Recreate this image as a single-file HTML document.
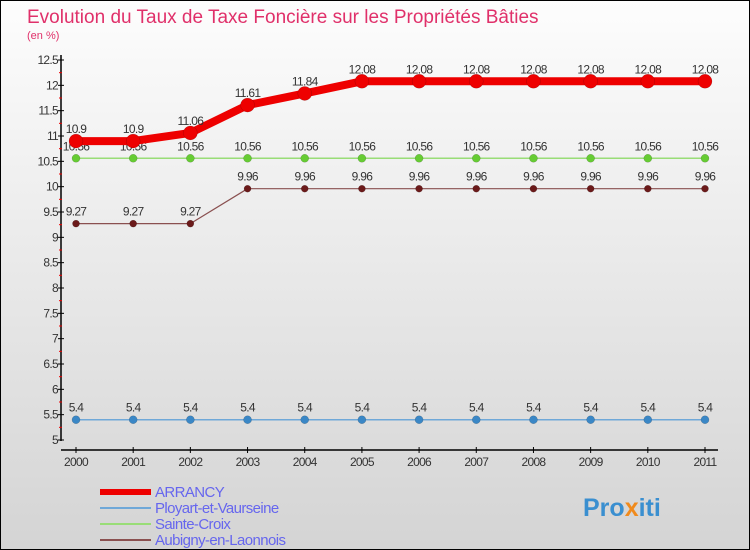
<!DOCTYPE html>
<html><head><meta charset="utf-8"><style>
body{margin:0;width:750px;height:550px;overflow:hidden;font-family:"Liberation Sans",sans-serif}
svg{display:block}
</style></head><body>
<svg width="750" height="550">
<defs><linearGradient id="bg" x1="0" y1="0" x2="0" y2="1"><stop offset="0" stop-color="#fdfdfd"/><stop offset="1" stop-color="#d4d4d4"/></linearGradient></defs>
<rect x="0.5" y="0.5" width="749" height="549" fill="url(#bg)" stroke="#000"/>
<text x="27" y="23" font-size="19" fill="#e0306a">Evolution du Taux de Taxe Foncière sur les Propriétés Bâties</text>
<text x="27" y="39" font-size="11" fill="#e0306a">(en %)</text>
<g id="axes"></g><g id="series"></g><g id="legend"></g>
<text x="583" y="516" font-size="25" font-weight="bold" fill="#3a8fd0">Pro<tspan fill="#f08a1c">x</tspan>iti</text>
</svg>
<script>
const years=["2000","2001","2002","2003","2004","2005","2006","2007","2008","2009","2010","2011"];
const yTicks=[5,5.5,6,6.5,7,7.5,8,8.5,9,9.5,10,10.5,11,11.5,12,12.5];
const names=["ARRANCY","Ployart-et-Vaurseine","Sainte-Croix","Aubigny-en-Laonnois"];
const arrancy=[10.9,10.9,11.06,11.61,11.84,12.08,12.08,12.08,12.08,12.08,12.08,12.08];
const ployart=[5.4,5.4,5.4,5.4,5.4,5.4,5.4,5.4,5.4,5.4,5.4,5.4];
const sainte=[10.56,10.56,10.56,10.56,10.56,10.56,10.56,10.56,10.56,10.56,10.56,10.56];
const aubigny=[9.27,9.27,9.27,9.96,9.96,9.96,9.96,9.96,9.96,9.96,9.96,9.96];
const labels=[arrancy.map(String),ployart.map(String),sainte.map(String),aubigny.map(String)];
const NS="http://www.w3.org/2000/svg";
const X=i=>76+i*(705-76)/(years.length-1);
const Y=v=>440-(v-5)*(380/7.5);
function mk(t,a,p){const e=document.createElementNS(NS,t);for(const k in a)e.setAttribute(k,a[k]);p.appendChild(e);return e;}
const ax=document.getElementById('axes');
let e=mk('line',{x1:61,y1:55,x2:61,y2:441,stroke:'#000','stroke-width':1.5},ax);


e=mk('line',{x1:61,y1:450,x2:718,y2:450,stroke:'#000','stroke-width':1.5},ax);


yTicks.forEach(v=>{
 mk('line',{x1:58,x2:64,y1:Y(v),y2:Y(v),stroke:'#000'},ax);
 if(v<12.5)mk('line',{x1:59,x2:62,y1:Y(v+0.25),y2:Y(v+0.25),stroke:'#e00'},ax);
 const t=mk('text',{x:58,y:Y(v)+4,'text-anchor':'end','font-size':12,fill:'#333','letter-spacing':'-0.7'},ax);
 t.textContent=String(v);
 
 
});
years.forEach((y,i)=>{
 mk('line',{x1:X(i),x2:X(i),y1:447,y2:453,stroke:'#000'},ax);
 const t=mk('text',{x:X(i),y:466,'text-anchor':'middle','font-size':12,fill:'#333','letter-spacing':'-0.7'},ax);
 t.textContent=y;
 
 
});
const sg=document.getElementById('series');
const cfg=[[ployart,'#6fa8d8','#3a87c6',1.5,4],[aubigny,'#8a5050','#6b1a1a',1.2,3.5],[sainte,'#99dd77','#66cc33',1.5,4],[arrancy,'#ee0000','#ee0000',8,7]];
const lblIdx=[1,3,2,0];
cfg.forEach((c,k)=>{
 const d=c[0];
 const p=mk('polyline',{points:d.map((v,i)=>X(i)+','+Y(v)).join(' '),fill:'none',stroke:c[1],'stroke-width':c[3],'stroke-linejoin':'round'},sg);
 
 
 d.forEach((v,i)=>{
  const m=mk('circle',{cx:X(i),cy:Y(v),r:c[4],fill:c[2],stroke:'rgba(0,0,0,0.25)','stroke-width':0.5},sg);
  
  
  const t=mk('text',{x:X(i),y:Y(v)-8,'text-anchor':'middle','font-size':12,fill:'#333','letter-spacing':'-0.7'},sg);
  t.textContent=labels[lblIdx[k]][i];
  
  
 });
});
const lg=document.getElementById('legend');
const lc=[['#ee0000',6],['#6fa8d8',2],['#99dd77',2],['#8a5050',2]];
names.forEach((n,i)=>{
 const y=492+i*16;
 mk('line',{x1:100,x2:151,y1:y,y2:y,stroke:lc[i][0],'stroke-width':lc[i][1]},lg);
 const t=mk('text',{x:155,y:y+5,'font-size':15,fill:'#6666ee','letter-spacing':'-0.6'},lg);
 t.textContent=n;
 
 
});
</script>
</body></html>
